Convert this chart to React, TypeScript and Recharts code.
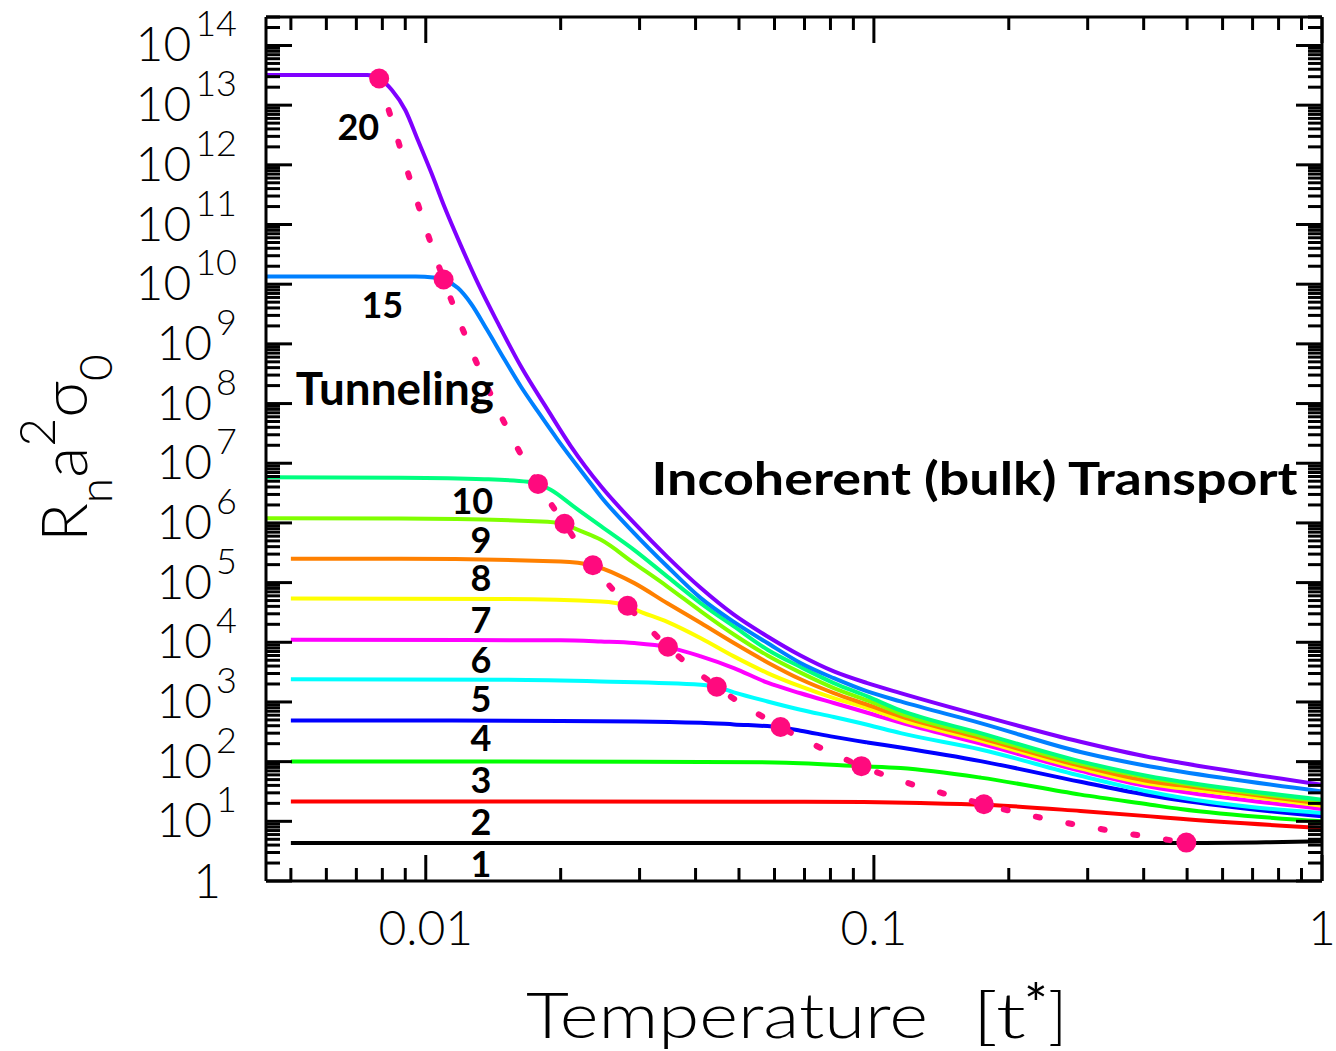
import React from "react";
import { ComposedChart, Line, XAxis, YAxis, ReferenceDot } from "recharts";

type Pair = [number, number];

// [temperature t*, R_n a^2 sigma_0], one list per curve (n layers)
const n1: Pair[] = [[0.005, 4.35], [0.3, 4.35], [0.55, 4.35], [0.75, 4.45], [1, 4.65]];
const n2: Pair[] = [[0.005, 21.5], [0.07, 21.3], [0.127, 20.3], [0.176, 19], [0.289, 14.9], [0.414, 12.1], [0.483, 11], [1, 7.7]];
const n3: Pair[] = [[0.005, 101], [0.03, 100], [0.06, 97], [0.0938, 84], [0.1147, 78], [0.173, 54], [0.289, 28], [0.414, 19], [0.483, 16.1], [1, 10]];
const n4: Pair[] = [[0.005, 490], [0.02, 482], [0.0411, 450], [0.0487, 420], [0.0619, 375], [0.0686, 330], [0.0814, 260], [0.0967, 210], [0.1147, 172], [0.173, 102], [0.289, 46], [0.414, 27], [0.483, 22.5], [1, 12.1]];
const n5: Pair[] = [[0.005, 2400], [0.015, 2350], [0.0246, 2200], [0.0411, 1940], [0.0446, 1780], [0.0487, 1450], [0.0579, 1020], [0.0686, 740], [0.0814, 560], [0.0967, 415], [0.1147, 300], [0.173, 160], [0.289, 58], [0.414, 31], [0.483, 25], [1, 13.8]];
const n6: Pair[] = [[0.005, 11000], [0.02, 10800], [0.0246, 10300], [0.0292, 9700], [0.0347, 8300], [0.0411, 5800], [0.0487, 3700], [0.0579, 2100], [0.0686, 1400], [0.0814, 960], [0.0967, 660], [0.1147, 450], [0.173, 200], [0.289, 70], [0.414, 38], [0.483, 31.7], [1, 16.1]];
const n7: Pair[] = [[0.005, 54000], [0.015, 53000], [0.0246, 48000], [0.0282, 41000], [0.0292, 36000], [0.0346, 22000], [0.0411, 11700], [0.0487, 5800], [0.0579, 3050], [0.0686, 1820], [0.0814, 1160], [0.0967, 790], [0.1147, 505], [0.173, 226], [0.289, 77], [0.414, 42], [0.483, 36], [1, 18.2]];
const n8: Pair[] = [[0.005, 250000], [0.0088, 250000], [0.02, 226000], [0.0236, 193000], [0.0268, 135000], [0.0292, 98000], [0.0346, 45000], [0.0411, 21000], [0.0487, 9700], [0.0579, 4600], [0.0686, 2400], [0.0814, 1410], [0.0967, 898], [0.1147, 575], [0.173, 248], [0.289, 85], [0.414, 46.6], [0.483, 40], [1, 19.7]];
const n9: Pair[] = [[0.00442, 1.2e6], [0.0088, 1.19e6], [0.0187, 1.05e6], [0.0204, 9.5e5], [0.0218, 7.7e5], [0.0246, 5.2e5], [0.0292, 2.1e5], [0.0346, 8.6e4], [0.0411, 3.3e4], [0.0487, 1.35e4], [0.0579, 6000], [0.0686, 3100], [0.0814, 1710], [0.0967, 1060], [0.1147, 640], [0.173, 272], [0.289, 93], [0.414, 53], [0.483, 43.8], [1, 21.5]];
const n10: Pair[] = [[0.00442, 5.8e6], [0.0088, 5.7e6], [0.0135, 5.4e6], [0.0169, 4.9e6], [0.0178, 4.5e6], [0.019, 3.6e6], [0.0214, 1.88e6], [0.0246, 8.8e5], [0.0292, 3.5e5], [0.0346, 1.26e5], [0.0411, 4.5e4], [0.0487, 1.84e4], [0.0579, 7500], [0.0686, 3850], [0.0814, 2070], [0.0967, 1240], [0.1147, 720], [0.173, 301], [0.289, 101], [0.414, 56.5], [0.483, 46.6], [1, 23]];
const n15: Pair[] = [[0.00442, 1.35e10], [0.0095, 1.34e10], [0.0104, 1.3e10], [0.011, 1.18e10], [0.0118, 8.6e9], [0.0126, 4.8e9], [0.0137, 1.72e9], [0.015, 5.4e8], [0.0163, 1.93e8], [0.0178, 7.3e7], [0.0197, 2.47e7], [0.023, 5.3e6], [0.0246, 2.75e6], [0.0292, 6.7e5], [0.0346, 1.86e5], [0.0411, 5.5e4], [0.0487, 2.2e4], [0.0579, 9700], [0.0686, 4500], [0.0814, 2500], [0.0967, 1500], [0.1147, 1020], [0.173, 443], [0.289, 145], [0.414, 83], [0.483, 68.5], [1, 31.7]];
const n20: Pair[] = [[0.00442, 3.2e13], [0.0074, 3.2e13], [0.0079, 2.75e13], [0.0084, 1.8e13], [0.009, 8.3e12], [0.0096, 2.6e12], [0.0103, 7.2e11], [0.011, 2.0e11], [0.012, 4.3e10], [0.0131, 1.0e10], [0.0145, 2.2e9], [0.0163, 4.2e8], [0.0187, 7.9e7], [0.0211, 1.9e7], [0.0246, 4.1e6], [0.0292, 9.9e5], [0.0346, 2.7e5], [0.0411, 8.1e4], [0.0487, 2.9e4], [0.0579, 1.25e4], [0.0686, 6000], [0.0814, 3250], [0.0967, 2070], [0.1147, 1410], [0.173, 594], [0.289, 215], [0.414, 118], [0.483, 96], [1, 41]];

// crossover points (tunneling -> incoherent transport), joined by the dotted line
const crossover: Pair[] = [[0.00787, 2.8e13], [0.01096, 1.2e10], [0.0178, 4.5e6], [0.0204, 9.7e5], [0.0236, 1.95e5], [0.0282, 4.1e4], [0.0347, 8.4e3], [0.0446, 1800], [0.0619, 380], [0.0938, 84], [0.176, 19.3], [0.498, 4.4]];

const curves = [
  { name: "1", color: "#000000", pts: n1 },
  { name: "2", color: "#ff0000", pts: n2 },
  { name: "3", color: "#00ff00", pts: n3 },
  { name: "4", color: "#0000ff", pts: n4 },
  { name: "5", color: "#00ffff", pts: n5 },
  { name: "6", color: "#ff00ff", pts: n6 },
  { name: "7", color: "#ffff00", pts: n7 },
  { name: "8", color: "#ff8000", pts: n8 },
  { name: "9", color: "#80ff00", pts: n9 },
  { name: "10", color: "#00ff80", pts: n10 },
  { name: "15", color: "#0080ff", pts: n15 },
  { name: "20", color: "#8000ff", pts: n20 },
];

// curve numbers, placed at (t, value) of their baseline centre
const curveLabels = [
  { text: "20", t: 0.00707, v: 2.61e12 },
  { text: "15", t: 0.008, v: 2.72e9 },
  { text: "10", t: 0.0127, v: 1.42e6 },
  { text: "9", t: 0.01327, v: 3.1e5 },
  { text: "8", t: 0.01327, v: 7.2e4 },
  { text: "7", t: 0.01327, v: 1.44e4 },
  { text: "6", t: 0.01327, v: 3080 },
  { text: "5", t: 0.01327, v: 685 },
  { text: "4", t: 0.01327, v: 152 },
  { text: "3", t: 0.01327, v: 30.1 },
  { text: "2", t: 0.01327, v: 5.97 },
  { text: "1", t: 0.01327, v: 1.18 },
];

const notes = [
  { text: "Tunneling", t: 0.00513, v: 9.5e7, len: 198 },
  { text: "Incoherent (bulk) Transport", t: 0.0319, v: 2.96e6, len: 646 },
];

const xTicks = [0.005, 0.006, 0.007, 0.008, 0.009, 0.01, 0.02, 0.03, 0.04, 0.05, 0.06, 0.07, 0.08, 0.09, 0.1, 0.2, 0.3, 0.4, 0.5, 0.6, 0.7, 0.8, 0.9, 1];
const xLabels: Record<string, string> = { "0.01": "0.01", "0.1": "0.1", "1": "1" };
const yDecades = [0, 1, 2, 3, 4, 5, 6, 7, 8, 9, 10, 11, 12, 13, 14];
const ySteps = [1, 2, 3, 4, 5, 6, 7, 8, 9];
const yTicks = yDecades.flatMap((e) => ySteps.map((m) => m * Math.pow(10, e))).filter((v) => v <= 3e14);

const W = 1336;
const H = 1051;
const PLOT = { left: 266, right: 1322, top: 17, bottom: 881 };
const PINK = "#ff0a7e";
const THIN = "Lato, 'DejaVu Sans', sans-serif";
const BOLD = "Lato, 'DejaVu Sans', sans-serif";

const toPts = (pairs: Pair[]) => pairs.map(([t, v]) => ({ t, v }));

const isMajor = (v: number) => {
  const lg = Math.log10(v);
  return Math.abs(lg - Math.round(lg)) < 1e-6;
};

function BottomTick(props: any) {
  const { x, payload } = props;
  const major = isMajor(payload.value);
  const label = xLabels[String(payload.value)];
  return (
    <g>
      <line x1={x} x2={x} y1={PLOT.bottom} y2={PLOT.bottom - (major ? 26 : 13)} stroke="#000" strokeWidth={3} />
      {label && (
        <text x={x} y={945} textAnchor="middle" fontSize={48} fontFamily={THIN} fontWeight={300} fill="#000">
          {label}
        </text>
      )}
    </g>
  );
}

function TopTick(props: any) {
  const { x, payload } = props;
  const major = isMajor(payload.value);
  return <line x1={x} x2={x} y1={PLOT.top} y2={PLOT.top + (major ? 26 : 13)} stroke="#000" strokeWidth={3} />;
}

function LeftTick(props: any) {
  const { y, payload } = props;
  const major = isMajor(payload.value);
  const e = Math.round(Math.log10(payload.value));
  return (
    <g>
      <line x1={PLOT.left} x2={PLOT.left + (major ? 26 : 14)} y1={y} y2={y} stroke="#000" strokeWidth={3} />
      {major && e === 0 && (
        <text x={221} y={y + 17} textAnchor="end" fontSize={48} fontFamily={THIN} fontWeight={300} fill="#000">
          1
        </text>
      )}
      {major && e > 0 && (
        <text x={237} y={y + 16} textAnchor="end" fontFamily={THIN} fontWeight={300} fill="#000">
          <tspan fontSize={48}>10</tspan>
          <tspan fontSize={36} dx={4} dy={-25}>
            {e}
          </tspan>
        </text>
      )}
    </g>
  );
}

function RightTick(props: any) {
  const { y, payload } = props;
  const major = isMajor(payload.value);
  return <line x1={PLOT.right} x2={PLOT.right - (major ? 26 : 14)} y1={y} y2={y} stroke="#000" strokeWidth={3} />;
}

export default function App() {
  return (
    <div style={{ position: "absolute", left: 0, top: 0, width: W, height: H, background: "#fff" }}>
      <ComposedChart width={W} height={H} margin={{ top: 0, right: 0, bottom: 0, left: 0 }}>
        <XAxis
          xAxisId="b"
          dataKey="t"
          type="number"
          scale="log"
          domain={[0.0044, 1]}
          allowDataOverflow
          ticks={xTicks}
          interval={0}
          orientation="bottom"
          height={H - PLOT.bottom}
          axisLine={{ stroke: "#000", strokeWidth: 3 }}
          tickLine={false}
          tick={(p: any) => <BottomTick {...p} />}
        />
        <XAxis
          xAxisId="t"
          dataKey="t"
          type="number"
          scale="log"
          domain={[0.0044, 1]}
          allowDataOverflow
          ticks={xTicks}
          interval={0}
          orientation="top"
          height={PLOT.top}
          axisLine={{ stroke: "#000", strokeWidth: 3 }}
          tickLine={false}
          tick={(p: any) => <TopTick {...p} />}
        />
        <YAxis
          yAxisId="l"
          type="number"
          scale="log"
          domain={[1, 3e14]}
          allowDataOverflow
          ticks={yTicks}
          interval={0}
          orientation="left"
          width={PLOT.left}
          axisLine={{ stroke: "#000", strokeWidth: 3 }}
          tickLine={false}
          tick={(p: any) => <LeftTick {...p} />}
        />
        <YAxis
          yAxisId="r"
          type="number"
          scale="log"
          domain={[1, 3e14]}
          allowDataOverflow
          ticks={yTicks}
          interval={0}
          orientation="right"
          width={W - PLOT.right}
          axisLine={{ stroke: "#000", strokeWidth: 3 }}
          tickLine={false}
          tick={(p: any) => <RightTick {...p} />}
        />
        {curves.map((c) => (
          <Line
            key={c.name}
            data={toPts(c.pts)}
            dataKey="v"
            xAxisId="b"
            yAxisId="l"
            type="monotone"
            stroke={c.color}
            strokeWidth={4}
            dot={false}
            activeDot={false}
            isAnimationActive={false}
          />
        ))}
        <Line
          data={toPts(crossover)}
          dataKey="v"
          xAxisId="b"
          yAxisId="l"
          type="monotone"
          stroke={PINK}
          strokeWidth={6}
          strokeDasharray="4 29"
          strokeLinecap="round"
          dot={(p: any) => <circle key={p.index} cx={p.cx} cy={p.cy} r={10} fill={PINK} />}
          activeDot={false}
          isAnimationActive={false}
        />
        {curveLabels.map((l) => (
          <ReferenceDot
            key={l.text}
            xAxisId="b"
            yAxisId="l"
            x={l.t}
            y={l.v}
            r={0}
            ifOverflow="visible"
            shape={(p: any) => (
              <text x={p.cx} y={p.cy} textAnchor="middle" fontSize={36} fontWeight={700} fontFamily={BOLD} fill="#000">
                {l.text}
              </text>
            )}
          />
        ))}
        {notes.map((n) => (
          <ReferenceDot
            key={n.text}
            xAxisId="b"
            yAxisId="l"
            x={n.t}
            y={n.v}
            r={0}
            ifOverflow="visible"
            shape={(p: any) => (
              <text
                x={p.cx}
                y={p.cy}
                fontSize={46}
                fontWeight={700}
                fontFamily={BOLD}
                fill="#000"
                textLength={n.len}
                lengthAdjust="spacingAndGlyphs"
              >
                {n.text}
              </text>
            )}
          />
        ))}
      </ComposedChart>
      <svg width={W} height={H} style={{ position: "absolute", left: 0, top: 0, pointerEvents: "none" }}>
        <text transform="translate(87,542) rotate(-90)" fontSize={64} fontFamily={THIN} fontWeight={300} fill="#000">
          R
          <tspan fontSize={46} dy={25}>n</tspan>
          <tspan fontSize={64} dy={-25}>a</tspan>
          <tspan fontSize={50} dy={-32}>2</tspan>
          <tspan fontSize={64} dy={32}>σ</tspan>
          <tspan fontSize={46} dy={25}>0</tspan>
        </text>
        <text x={526} y={1038} fontSize={64} fontFamily={THIN} fontWeight={300} fill="#000" textLength={402} lengthAdjust="spacingAndGlyphs">
          Temperature
        </text>
        <text x={972} y={1038} fontSize={64} fontFamily={THIN} fontWeight={300} fill="#000" textLength={54} lengthAdjust="spacingAndGlyphs">
          [t
        </text>
        <text x={1024} y={1024} fontSize={56} fontFamily={THIN} fontWeight={400} fill="#000">
          *
        </text>
        <text x={1048} y={1038} fontSize={64} fontFamily={THIN} fontWeight={300} fill="#000">
          ]
        </text>
      </svg>
    </div>
  );
}
